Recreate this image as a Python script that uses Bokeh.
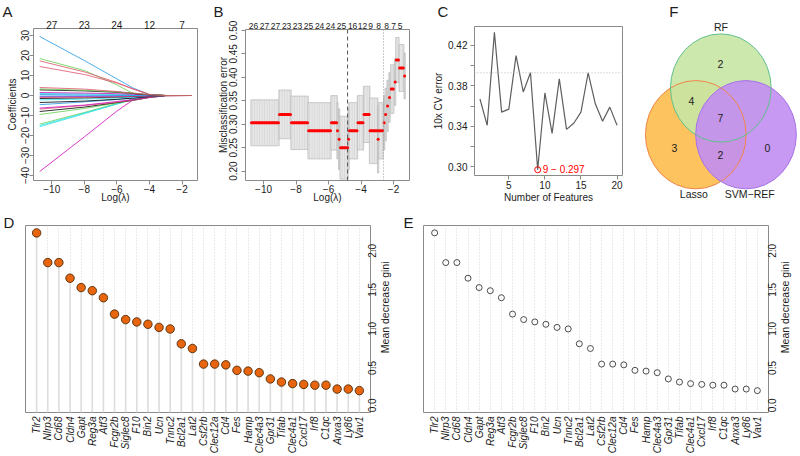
import math
from bokeh.plotting import figure
from bokeh.models import (Range1d, FixedTicker, LinearAxis, Span, Grid, Title,
                          PrintfTickFormatter)
from bokeh.layouts import row, column
from bokeh.embed import file_html
from bokeh.resources import INLINE
from bokeh.core.properties import value

# ------------------------------------------------------------------ data
# Panel A : LASSO coefficient paths (log lambda knots, one list per gene)
lasso_loglambda = [-10.74, -8.0, -6.0, -5.0, -4.0, -3.0, -1.4]
lasso_coefs = [
    [29.5, 17.5, 8.3, 3.7, 0.5, 0, 0],
    [18.5, 12.5, 5.3, 1.0, 0.2, 0, 0],
    [17.3, 11.8, 6.5, 3.2, 0.6, 0, 0],
    [14.5, 10.5, 6.2, 3.3, 0.5, 0, 0],
    [-38.0, -20.7, -7.8, -2.2, -0.3, 0, 0],
    [-15.6, -9.1, -4.2, -1.8, -0.4, 0, 0],
    [-14.3, -8.5, -4.0, -1.9, -0.5, 0, 0],
    [-15.0, -8.8, -4.3, -2.0, -0.5, 0, 0],
    [-9.5, -6.5, -3.7, -2.2, -0.8, 0, 0],
    [-8.0, -5.8, -3.5, -2.4, -1.0, -0.1, 0],
    [-6.8, -5.0, -3.4, -2.4, -1.0, -0.2, 0],
    [-6.3, -4.8, -3.0, -2.0, -0.8, 0, 0],
    [-4.6, -3.2, -2.0, -1.2, -0.4, 0, 0],
    [-3.5, -2.8, -1.9, -1.3, -0.5, 0, 0],
    [-2.2, -1.8, -1.2, -0.8, -0.3, 0, 0],
    [-1.5, -1.2, -0.8, -0.5, -0.2, 0, 0],
    [-1.0, -0.9, -0.6, -0.4, -0.2, 0, 0],
    [-0.6, -0.5, -0.3, -0.2, -0.1, 0, 0],
    [-0.3, -0.2, -0.1, 0.0, 0, 0, 0],
    [0.5, 0.3, 0.2, 0.1, 0.0, 0, 0],
    [1.0, 0.8, 0.5, 0.3, 0.1, 0, 0],
    [1.5, 1.2, 0.9, 0.6, 0.2, 0, 0],
    [2.8, 2.3, 1.6, 1.0, 0.3, 0, 0],
    [3.3, 2.6, 1.8, 1.2, 0.5, 0, 0],
    [4.0, 3.2, 2.0, 1.2, 0.4, 0, 0],
]
lasso_colors = [
    "#2297E6", "#61D04F", "#DF536B", "#DF536B", "#CD0BBC", "#28E2E5",
    "#61D04F", "#28E2E5", "#61D04F", "#000000", "#DF536B", "#CD0BBC",
    "#2297E6", "#000000", "#28E2E5", "#000000", "#DF536B", "#CD0BBC",
    "#2297E6", "#2297E6", "#28E2E5", "#CD0BBC", "#000000", "#61D04F",
    "#DF536B",
]
lasso_x_ticks = [-10, -8, -6, -4, -2]
lasso_top_df = ["27", "23", "24", "12", "7"]
lasso_y_ticks = [-40, -30, -20, -10, 0, 10, 20, 30]

# Panel B : cross-validated misclassification error (runs of equal values)
cv_run_start = [-10.74, -9.02, -8.28, -7.23, -5.82, -5.45, -5.35, -5.26, -4.77, -4.71,
                -4.19, -3.82, -3.45, -2.95, -2.90, -2.58, -2.49, -2.37, -2.25, -2.14,
                -1.90, -1.83, -1.63, -1.32]
cv_run_end = [-9.08, -8.34, -7.29, -5.88, -5.50, -5.45, -5.35, -4.83, -4.77, -4.25,
              -3.88, -3.50, -3.00, -2.95, -2.68, -2.58, -2.49, -2.37, -2.25, -2.02,
              -1.90, -1.70, -1.40, -1.32]
cv_mean = [0.303, 0.321, 0.303, 0.286, 0.303, 0.286, 0.268, 0.250, 0.268, 0.286,
           0.303, 0.321, 0.286, 0.268, 0.286, 0.303, 0.321, 0.339, 0.357, 0.375,
           0.390, 0.437, 0.420, 0.403]
cv_se = [0.049, 0.052, 0.057, 0.060, 0.058, 0.060, 0.065, 0.067, 0.065, 0.060,
         0.058, 0.060, 0.070, 0.072, 0.060, 0.058, 0.056, 0.055, 0.053, 0.052,
         0.050, 0.048, 0.050, 0.049]
cv_lambda_min = -4.83
cv_lambda_1se = -2.62
cv_top_pos = [-10.62, -9.94, -9.26, -8.58, -7.91, -7.23, -6.55, -5.88, -5.20, -4.52,
              -3.91, -3.42, -2.92, -2.43, -2.00, -1.60]
cv_top_df = ["26", "27", "27", "23", "23", "25", "24", "24", "25", "16",
             "12", "9", "8", "8", "7", "5"]
cv_y_ticks = [0.20, 0.25, 0.30, 0.35, 0.40, 0.45, 0.50]

# Panel C : SVM-RFE 10x CV error
rfe_n = list(range(1, 21))
rfe_err = [0.367, 0.341, 0.433, 0.354, 0.357, 0.410, 0.374, 0.393, 0.297, 0.373,
           0.333, 0.387, 0.337, 0.343, 0.354, 0.393, 0.362, 0.345, 0.359, 0.341]
rfe_threshold = 0.393

# Panels D / E : random forest importance
genes = ["Tlr2", "Nlrp3", "Cd68", "Cldn4", "Gapt", "Reg3a", "Atf3", "Fcgr2b",
         "Siglec8", "F10", "Bin2", "Ucn", "Tnnc2", "Bcl2a1", "Lat2", "Csf2rb",
         "Clec12a", "Cd4", "Fes", "Hamp", "Clec4a3", "Gpr31", "Tifab", "Clec4a1",
         "Cxcl17", "Irf8", "C1qc", "Anxa3", "Ly86", "Vav1"]
gini = [2.23, 1.85, 1.85, 1.65, 1.53, 1.49, 1.40, 1.19, 1.12, 1.09,
        1.06, 1.02, 1.00, 0.81, 0.75, 0.55, 0.55, 0.54, 0.47, 0.46,
        0.44, 0.36, 0.32, 0.30, 0.29, 0.28, 0.28, 0.23, 0.23, 0.21]
gini_ticks = [0.0, 0.5, 1.0, 1.5, 2.0]

# Panel F : Venn diagram
venn_names = ["RF", "Lasso", "SVM\u2212REF"]
venn_region_counts = [2, 4, 7, 3, 2, 0]   # RF, RF&Lasso, all, Lasso, Lasso&SVM, SVM

# ------------------------------------------------------------------ style
FONT = "Liberation Sans"
BOX = "#8a8a8a"
TXT = "#1c1c1c"
MINUS = "\u2212"


def fmt(v):
    return str(v).replace("-", MINUS)


def base_fig(w, h, l, r, t, b, xr, yr):
    p = figure(width=w, height=h, x_range=xr, y_range=yr, output_backend="svg",
               toolbar_location=None, x_axis_location=None, y_axis_location=None,
               min_border_left=l, min_border_right=r, min_border_top=t,
               min_border_bottom=b, title=None)
    try:
        p.frame_align = False
    except Exception:
        pass
    p.center = [c for c in p.center if not isinstance(c, Grid)]
    p.outline_line_color = BOX
    p.outline_line_width = 1
    p.background_fill_color = "white"
    p.border_fill_color = "white"
    return p


def style_axis(ax, standoff=0, tick_out=4, size="10px"):
    ax.axis_line_color = None
    ax.major_tick_line_color = BOX
    ax.minor_tick_line_color = BOX
    ax.major_tick_out = tick_out
    ax.major_tick_in = 0
    ax.minor_tick_out = tick_out
    ax.minor_tick_in = 0
    ax.major_label_text_font = FONT
    ax.major_label_text_font_size = size
    ax.major_label_text_color = TXT
    ax.major_label_standoff = standoff
    return ax


def axis_title(ax, text, standoff):
    ax.axis_label = text
    ax.axis_label_standoff = standoff
    ax.axis_label_text_font = FONT
    ax.axis_label_text_font_size = "10px"
    ax.axis_label_text_font_style = "normal"
    ax.axis_label_text_color = TXT


def panel_letter(p, letter, offset, standoff):
    p.add_layout(Title(text=letter, align="left", offset=offset, standoff=standoff,
                       text_font=FONT, text_font_size="15px",
                       text_font_style="normal", text_color=TXT), "above")


# ------------------------------------------------------------------ panel A
pA = base_fig(205, 205, 33, 8, 28, 25, Range1d(-11.12, -1.05), Range1d(-42.5, 33.5))
pA.multi_line(xs=[lasso_loglambda] * len(lasso_coefs), ys=lasso_coefs,
              line_color=lasso_colors, line_width=1, line_alpha=0.8)
ax = style_axis(LinearAxis(ticker=FixedTicker(ticks=lasso_x_ticks),
                           major_label_overrides={t: fmt(t) for t in lasso_x_ticks}))
axis_title(ax, "Log(\u03bb)", -4)
pA.add_layout(ax, "below")
ax = style_axis(LinearAxis(ticker=FixedTicker(ticks=lasso_y_ticks),
                           major_label_overrides={t: fmt(t) for t in lasso_y_ticks},
                           major_label_orientation="vertical"), standoff=1)
axis_title(ax, "Coefficients", 0)
pA.add_layout(ax, "left")
ax = style_axis(LinearAxis(ticker=FixedTicker(ticks=lasso_x_ticks),
                           major_label_overrides=dict(zip(lasso_x_ticks, lasso_top_df))),
                tick_out=0, standoff=0)
ax.major_tick_line_color = None
pA.add_layout(ax, "above")
panel_letter(pA, "A", -31, -4)

# ------------------------------------------------------------------ panel B
pB = base_fig(225, 205, 40, 21, 29, 25, Range1d(-11.11, -1.02), Range1d(0.180, 0.502))
pB.quad(left=[s - 0.04 for s in cv_run_start], right=[e + 0.04 for e in cv_run_end],
        bottom=[m - s for m, s in zip(cv_mean, cv_se)],
        top=[m + s for m, s in zip(cv_mean, cv_se)],
        fill_color="#e6e6e6", line_color="#b8b8b8", line_width=0.7,
        hatch_pattern="vertical_line", hatch_color="#cdcdcd", hatch_scale=2.5,
        hatch_weight=0.6)
pB.add_layout(Span(location=cv_lambda_min, dimension="height", line_color="#555555",
                   line_dash="4 3", line_width=1))
pB.add_layout(Span(location=cv_lambda_1se, dimension="height", line_color="#999999",
                   line_dash="1 2", line_width=1))
pB.segment(x0=cv_run_start, y0=cv_mean, x1=cv_run_end, y1=cv_mean,
           line_color="#ff0000", line_width=3, line_cap="round")
ax = style_axis(LinearAxis(ticker=FixedTicker(ticks=lasso_x_ticks),
                           major_label_overrides={t: fmt(t) for t in lasso_x_ticks}))
axis_title(ax, "Log(\u03bb)", -4)
pB.add_layout(ax, "below")
ax = style_axis(LinearAxis(ticker=FixedTicker(ticks=cv_y_ticks),
                           formatter=PrintfTickFormatter(format="%.2f"),
                           major_label_orientation="vertical"), standoff=4)
axis_title(ax, "Misclassification error", -2)
pB.add_layout(ax, "left")
ax = style_axis(LinearAxis(ticker=FixedTicker(ticks=cv_top_pos),
                           major_label_overrides=dict(zip(cv_top_pos, cv_top_df))),
                tick_out=0, standoff=1, size="8.5px")
ax.major_tick_line_color = None
pB.add_layout(ax, "above")
panel_letter(pB, "B", -32, -1)

# ------------------------------------------------------------------ panel C
pC = base_fig(200, 205, 40, 8, 23, 30, Range1d(0.24, 20.76), Range1d(0.2913, 0.4388))
pC.add_layout(Span(location=rfe_threshold, dimension="width", line_color="#bbbbbb",
                   line_dash="1 2", line_width=1))
pC.line(rfe_n, rfe_err, line_color="#5e5e5e", line_width=1.2)
best_i = rfe_err.index(min(rfe_err))
best_n, best_e = rfe_n[best_i], rfe_err[best_i]
pC.scatter([best_n], [best_e], size=6, fill_color=None, line_color="#ff0000",
           line_width=1)
pC.text(x=[best_n], y=[best_e], text=[f"{best_n} {MINUS} {best_e:.3f}"],
        x_offset=5, text_font=value(FONT), text_font_size=value("10px"),
        text_color="#ff0000", text_baseline="middle", text_align="left")
ax = style_axis(LinearAxis(ticker=FixedTicker(ticks=[5, 10, 15, 20])), standoff=1)
axis_title(ax, "Number of Features", 0)
pC.add_layout(ax, "below")
ax = style_axis(LinearAxis(ticker=FixedTicker(ticks=[0.30, 0.34, 0.38, 0.42],
                                              minor_ticks=[0.32, 0.36, 0.40]),
                           formatter=PrintfTickFormatter(format="%.2f")), standoff=3)
axis_title(ax, "10x CV error", 1)
pC.add_layout(ax, "left")
spacer_axis = style_axis(LinearAxis(ticker=FixedTicker(ticks=[10]),
                                    major_label_overrides={10: " "}),
                         tick_out=0, standoff=3, size="1px")
spacer_axis.major_tick_line_color = None
pC.add_layout(spacer_axis, "above")
panel_letter(pC, "C", -37, 0)

# ------------------------------------------------------------------ panel F
pF = base_fig(170, 205, 0, 0, 0, 0, Range1d(630, 800), Range1d(205, 0))
pF.outline_line_color = None
venn_cx = [695.3, 720.3, 745.5]          # Lasso, RF, SVM (layout)
venn_cy = [134.2, 87.5, 134.2]
venn_fill = ["#FDBD4E", "#C6E6A4", "#C28EF2"]
venn_edge = ["#F0864A", "#62BF8C", "#A673E6"]
pF.ellipse(x=venn_cx, y=venn_cy, width=100.7, height=108.3, fill_color=venn_fill,
           fill_alpha=0.9, line_color=None)
pF.ellipse(x=venn_cx, y=venn_cy, width=100.7, height=108.3, fill_color=None,
           line_color=venn_edge, line_width=1)
pF.text(x=[720, 691, 720, 674, 720, 767], y=[63.5, 100, 117.5, 147, 154, 147],
        text=[str(c) for c in venn_region_counts], text_font=value(FONT),
        text_font_size=value("10.5px"), text_color=TXT, text_align="center",
        text_baseline="middle")
pF.text(x=[720.5, 693.3, 749.3], y=[26.7, 193.3, 193.3],
        text=[venn_names[0], venn_names[1], venn_names[2]], text_font=value(FONT),
        text_font_size=value("10.5px"), text_color=TXT, text_align="center",
        text_baseline="middle")
pF.text(x=[673.3], y=[10.5], text=["F"], text_font=value(FONT),
        text_font_size=value("15px"), text_color=TXT, text_align="center",
        text_baseline="middle")

# ------------------------------------------------------------------ panels D / E
gene_pos = list(range(1, len(genes) + 1))
GINI_RANGE = (-0.07, 2.325)
FRAME_H = 188
PX_PER_UNIT = FRAME_H / (GINI_RANGE[1] - GINI_RANGE[0])
LABEL_HALF = 6.95 / PX_PER_UNIT        # half the length of a "0.0" label
TITLE_START = 0.69                     # where the rotated axis title begins


def importance_fig(left, right, kind, letter, letter_offset, lab_standoff,
                   title_standoff):
    p = base_fig(400, 251, left, right, 20, 43, Range1d(0, len(genes) + 1),
                 Range1d(*GINI_RANGE))
    p.add_layout(Grid(dimension=0, ticker=FixedTicker(ticks=gene_pos),
                      grid_line_color="#d4d4d4", grid_line_dash="1 2",
                      grid_line_width=1))
    if kind == "lollipop":
        p.segment(x0=gene_pos, y0=[GINI_RANGE[0]] * len(genes), x1=gene_pos, y1=gini,
                  line_color="#dddddd", line_width=1.6)
        p.scatter(gene_pos, gini, size=8.5, fill_color="#E8650F",
                  line_color="#3d1f00", line_width=0.8)
    else:
        p.scatter(gene_pos, gini, size=6, fill_color=None, line_color="#3a3a3a",
                  line_width=0.9)
    ax = style_axis(LinearAxis(ticker=FixedTicker(ticks=gene_pos),
                               major_label_overrides=dict(zip(gene_pos, genes)),
                               major_label_orientation=math.pi / 2),
                    tick_out=0, standoff=4)
    ax.major_tick_line_color = None
    ax.major_label_text_font_style = "italic"
    p.add_layout(ax, "below")
    # right axis: tick marks
    ax = style_axis(LinearAxis(ticker=FixedTicker(ticks=gini_ticks)), size="1px")
    ax.major_label_text_alpha = 0
    p.add_layout(ax, "right")
    # right axis: tick labels, read bottom-to-top and centred on the ticks
    lab_pos = [round(max(t - LABEL_HALF, GINI_RANGE[0] + 0.002), 4) for t in gini_ticks]
    ax = style_axis(LinearAxis(ticker=FixedTicker(ticks=lab_pos),
                               major_label_overrides={q: f"{t:.1f}" for q, t in
                                                      zip(lab_pos, gini_ticks)},
                               major_label_orientation=math.pi / 2),
                    tick_out=0, standoff=lab_standoff)
    ax.major_tick_line_color = None
    p.add_layout(ax, "right")
    # right axis title, read bottom-to-top like the original
    ax = style_axis(LinearAxis(ticker=FixedTicker(ticks=[TITLE_START]),
                               major_label_overrides={TITLE_START: "Mean decrease gini"},
                               major_label_orientation=math.pi / 2),
                    tick_out=0, standoff=title_standoff, size="10.5px")
    ax.major_tick_line_color = None
    p.add_layout(ax, "right")
    panel_letter(p, letter, letter_offset, -10)
    return p


pD = importance_fig(25, 30, "lollipop", "D", -22, -2, 2)
pE = importance_fig(23, 31, "open", "E", -20, 0, 2)

layout = column(row(pA, pB, pC, pF), row(pD, pE))
open("out.html", "w").write(file_html(layout, INLINE))
